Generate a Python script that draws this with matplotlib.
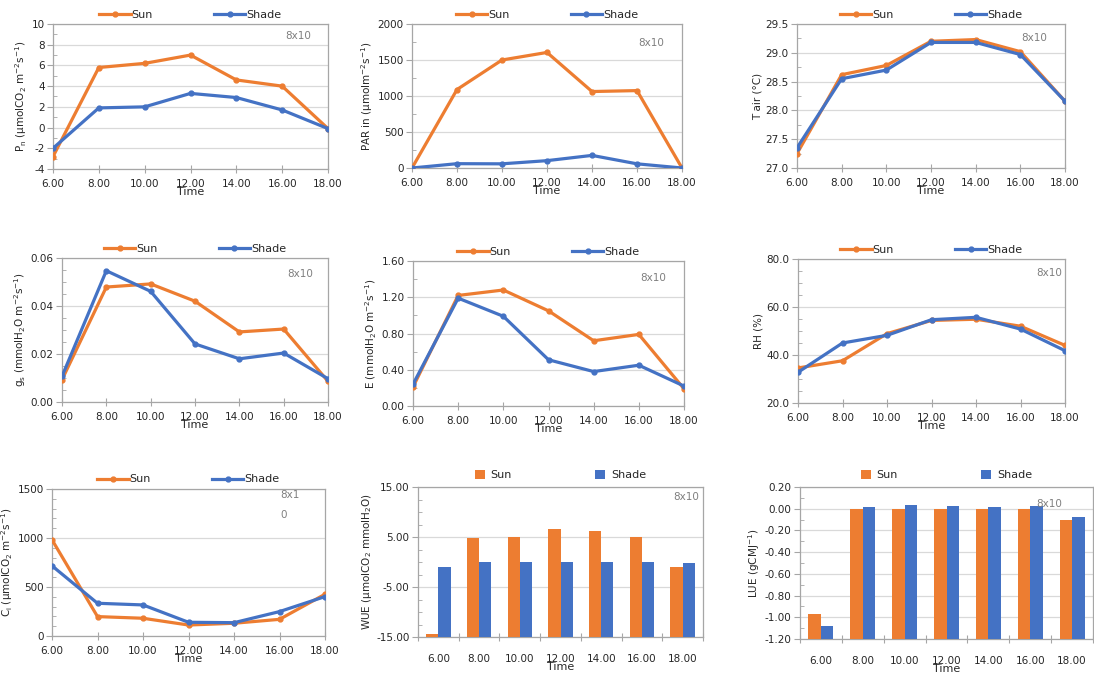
import matplotlib
matplotlib.use("Agg")
import matplotlib.pyplot as plt
from matplotlib.ticker import MultipleLocator, FixedLocator, FormatStrFormatter
import numpy as np

# ---------------- data ----------------
times = [6, 8, 10, 12, 14, 16, 18]
time_labels = ["6.00", "8.00", "10.00", "12.00", "14.00", "16.00", "18.00"]

pn_sun = [-2.8, 5.8, 6.2, 7.0, 4.6, 4.0, -0.1]
pn_shade = [-2.0, 1.9, 2.0, 3.3, 2.9, 1.7, -0.1]

par_sun = [0, 1090, 1500, 1605, 1062, 1075, 0]
par_shade = [0, 60, 58, 102, 175, 58, 0]

tair_sun = [27.25, 28.62, 28.78, 29.20, 29.23, 29.02, 28.16]
tair_shade = [27.35, 28.55, 28.70, 29.18, 29.18, 28.97, 28.16]

gs_sun = [0.0093, 0.0479, 0.0492, 0.0420, 0.0292, 0.0304, 0.0086]
gs_shade = [0.0107, 0.0547, 0.0461, 0.0242, 0.0180, 0.0204, 0.0097]

e_sun = [0.21, 1.22, 1.28, 1.05, 0.72, 0.79, 0.19]
e_shade = [0.24, 1.19, 0.99, 0.51, 0.38, 0.45, 0.22]

rh_sun = [34.6, 37.6, 48.9, 54.4, 54.9, 52.0, 44.0]
rh_shade = [32.8, 45.0, 48.2, 54.7, 55.7, 50.8, 41.8]

ci_sun = [982, 198, 181, 112, 130, 170, 426]
ci_shade = [716, 334, 317, 140, 136, 249, 402]

wue_sun = [-14.3, 4.73, 4.93, 6.6, 6.27, 5.0, -1.0]
wue_shade = [-1.07, 0.0, 0.0, 0.0, 0.0, 0.0, -0.2]

lue_sun = [-0.97, 0.0, 0.0, 0.0, 0.0, 0.0, -0.108]
lue_shade = [-1.08, 0.02, 0.031, 0.022, 0.012, 0.022, -0.077]

series_names = ["Sun", "Shade"]

# ---------------- style ----------------
ORANGE = "#ED7D31"
BLUE = "#4472C4"
FRAME = "#A6A6A6"
GRID = "#D9D9D9"
TXT = "#262626"
FS = 7.5

W, H = 1094, 679
fig = plt.figure(figsize=(W / 100, H / 100), dpi=100)
fig.patch.set_facecolor("white")
plt.rcParams["font.family"] = ["DejaVu Sans"]
plt.rcParams["mathtext.default"] = "regular"


def px_axes(x0, y0, x1, y1):
    return fig.add_axes([x0 / W, 1 - y1 / H, (x1 - x0) / W, (y1 - y0) / H])


def style_axes(ax, ymin, ymax, major, minor, fmt):
    ax.set_ylim(ymin, ymax)
    n_major = int(round((ymax - ymin) / major))
    n_minor = int(round((ymax - ymin) / minor))
    ax.yaxis.set_major_locator(FixedLocator(ymin + major * np.arange(n_major + 1)))
    ax.yaxis.set_minor_locator(FixedLocator(ymin + minor * np.arange(n_minor + 1)))
    ax.yaxis.set_major_formatter(FormatStrFormatter(fmt))
    for s in ax.spines.values():
        s.set_color(FRAME)
        s.set_linewidth(0.9)
    ax.grid(axis="y", which="major", color=GRID, linewidth=0.9)
    ax.set_axisbelow(True)
    ax.tick_params(axis="y", which="major", direction="out", length=4,
                   color=FRAME, labelsize=FS, labelcolor=TXT, pad=2)
    ax.tick_params(axis="y", which="minor", direction="in", length=3,
                   color=FRAME)
    ax.tick_params(axis="x", which="major", direction="inout", length=6,
                   color=FRAME, labelsize=FS, labelcolor=TXT, pad=4)
    ax.tick_params(axis="x", which="minor", length=0)


def line_panel(rect, sun, shade, ymin, ymax, major, minor, fmt, ylabel,
               note_xy=(0.885, 0.9), note="8x10"):
    ax = px_axes(*rect)
    ax.plot(times, sun, color=ORANGE, lw=2.3, marker="o", ms=3.5,
            label=series_names[0], zorder=3)
    ax.plot(times, shade, color=BLUE, lw=2.3, marker="o", ms=3.5,
            label=series_names[1], zorder=4)
    ax.set_xlim(times[0], times[-1])
    ax.set_xticks(times)
    ax.set_xticklabels(time_labels)
    style_axes(ax, ymin, ymax, major, minor, fmt)
    ax.set_xlabel("Time", fontsize=FS + 0.5, color=TXT, labelpad=-1)
    ax.set_ylabel(ylabel, fontsize=FS, color=TXT, labelpad=2)
    ax.legend(loc="center", bbox_to_anchor=(0.5, 1.065), ncol=2,
              frameon=False, fontsize=FS + 0.5, handlelength=2.8,
              columnspacing=5.5, handletextpad=0.1, labelcolor=TXT)
    ax.text(note_xy[0], note_xy[1], note, transform=ax.transAxes,
            fontsize=FS, color="#7F7F7F", ha="center", va="center")
    return ax


def bar_panel(rect, sun, shade, ymin, ymax, major, minor, fmt, ylabel,
              note_xy):
    ax = px_axes(*rect)
    x = np.arange(len(times))
    wdt = 0.3
    ax.bar(x - wdt / 2, np.array(sun) - ymin, width=wdt, bottom=ymin,
           color=ORANGE, label=series_names[0], zorder=3)
    ax.bar(x + wdt / 2, np.array(shade) - ymin, width=wdt, bottom=ymin,
           color=BLUE, label=series_names[1], zorder=3)
    ax.set_xlim(-0.5, len(times) - 0.5)
    ax.set_xticks(np.arange(len(times) + 1) - 0.5)
    ax.set_xticklabels([])
    ax.set_xticks(x, minor=True)
    ax.set_xticklabels(time_labels, minor=True)
    style_axes(ax, ymin, ymax, major, minor, fmt)
    ax.tick_params(axis="x", which="minor", length=0, labelsize=FS,
                   labelcolor=TXT, pad=12)
    ax.set_xlabel("Time", fontsize=FS + 0.5, color=TXT, labelpad=-1)
    ax.set_ylabel(ylabel, fontsize=FS, color=TXT, labelpad=2)
    ax.legend(loc="center", bbox_to_anchor=(0.5, 1.08), ncol=2,
              frameon=False, fontsize=FS + 0.5, handlelength=0.9,
              handleheight=0.9, columnspacing=7.5, handletextpad=0.5,
              labelcolor=TXT)
    ax.text(note_xy[0], note_xy[1], "8x10", transform=ax.transAxes,
            fontsize=FS, color="#7F7F7F", ha="center", va="center")
    return ax


# Row 1
line_panel((53, 24, 328, 169), pn_sun, pn_shade, -4, 10, 2, 1, "%d",
           r"P$_n$ (µmolCO$_2$ m$^{-2}$s$^{-1}$)", (0.89, 0.92))
line_panel((412, 24, 682, 168), par_sun, par_shade, 0, 2000, 500, 250, "%d",
           r"PAR in (µmolm$^{-2}$s$^{-1}$)", (0.885, 0.87))
line_panel((797, 24, 1065, 168), tair_sun, tair_shade, 27.0, 29.5, 0.5, 0.25,
           "%.1f", r"T air (°C)", (0.885, 0.9))

# Row 2
line_panel((62, 258, 328, 402), gs_sun, gs_shade, 0, 0.06, 0.02, 0.005,
           "%.2f", r"g$_s$ (mmolH$_2$O m$^{-2}$s$^{-1}$)", (0.895, 0.89))
line_panel((413, 261, 684, 406), e_sun, e_shade, 0, 1.6, 0.4, 0.2,
           "%.2f", r"E (mmolH$_2$O m$^{-2}$s$^{-1}$)", (0.886, 0.88))
line_panel((798, 259, 1065, 403), rh_sun, rh_shade, 20, 80, 20, 5,
           "%.1f", "RH (%)", (0.94, 0.9))

# Row 3
ax7 = line_panel((52, 489, 325, 636), ci_sun, ci_shade, 0, 1500, 500, 100,
                 "%d", r"C$_i$ (µmolCO$_2$ m$^{-2}$s$^{-1}$)", (0.87, 0.96),
                 note="8x1")
ax7.text(0.85, 0.82, "0", transform=ax7.transAxes, fontsize=FS,
         color="#7F7F7F", ha="center", va="center")

bar_panel((418, 487, 703, 637), wue_sun, wue_shade, -15, 15, 10, 2.5,
          "%.2f", r"WUE (µmolCO$_2$ mmolH$_2$O)", (0.94, 0.93))
bar_panel((800, 487, 1093, 639), lue_sun, lue_shade, -1.2, 0.2, 0.2, 0.1,
          "%.2f", r"LUE (gCMJ$^{-1}$)", (0.85, 0.89))

fig.savefig("out.png", dpi=100, facecolor="white")
